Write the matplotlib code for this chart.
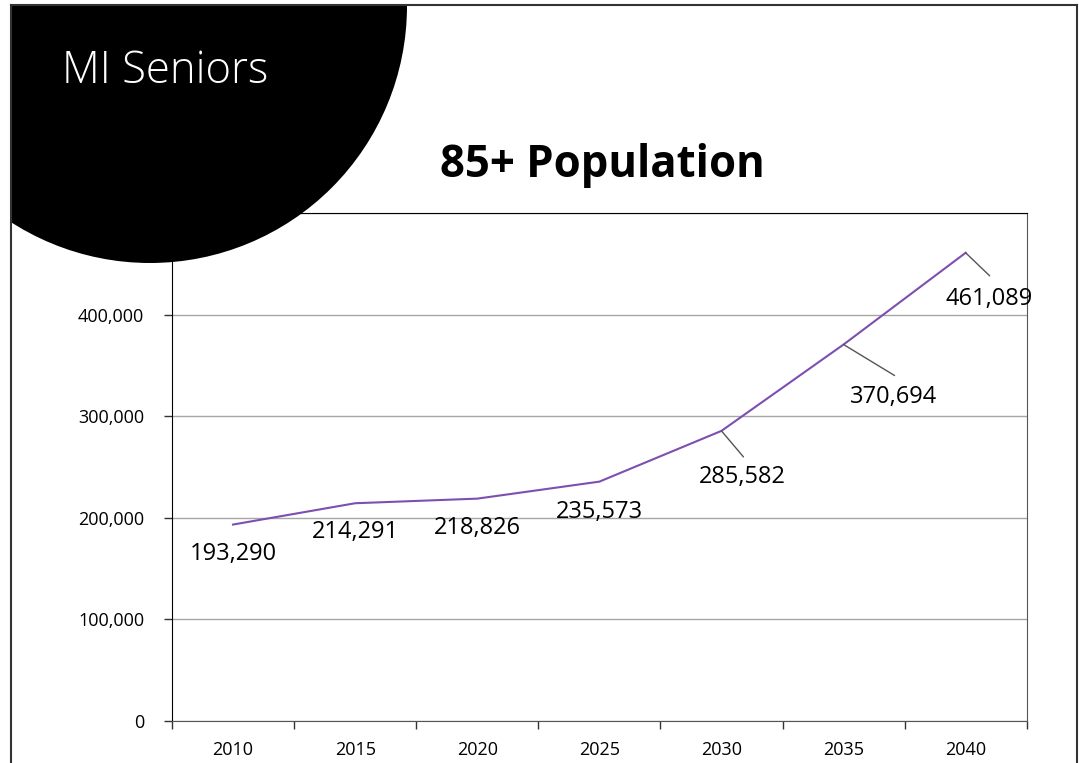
import matplotlib
matplotlib.use("Agg")
import matplotlib.pyplot as plt
from matplotlib.patches import Ellipse, Rectangle
from matplotlib.lines import Line2D
from matplotlib.ticker import FuncFormatter, MultipleLocator

plt.rcParams['font.family'] = ['Open Sans', 'DejaVu Sans']

years = ['2010', '2015', '2020', '2025', '2030', '2035', '2040']
population = [193290, 214291, 218826, 235573, 285582, 370694, 461089]

# label offsets in pixels (dx, dy downwards), leader end offsets (None = no leader)
label_offsets = [(0, 29), (0, 29), (0, 29), (0, 30), (21, 46), (50, 52), (23, 46)]
leader_ends = [None, None, None, None, (22, 26), (51, 31), (24, 23)]

W, H = 1079, 763
fig = plt.figure(figsize=(W / 100, H / 100), dpi=100)
fig.patch.set_facecolor('white')

ax = fig.add_axes([172 / W, 1 - 720.7 / H, 854.7 / W, (720.7 - 213.3) / H])
x = list(range(len(years)))
ax.plot(x, population, color='#7d4fb0', lw=1.5, zorder=3)

ax.set_xlim(-0.5, len(years) - 0.5)
ax.set_ylim(0, 500000)
ax.yaxis.set_major_locator(MultipleLocator(100000))
ax.yaxis.set_major_formatter(FuncFormatter(lambda v, p: f"{int(v):,}"))
ax.grid(axis='y', color='#a6a6a6', lw=1)
ax.set_axisbelow(True)

# category axis: ticks between categories, labels in the middle
ax.set_xticks([i - 0.5 for i in range(len(years) + 1)])
ax.set_xticklabels([])
ax.set_xticks(x, minor=True)
ax.set_xticklabels(years, minor=True)
ax.tick_params(axis='x', which='major', length=6, width=1, color='#333333', direction='out')
ax.tick_params(axis='x', which='minor', length=0, pad=14.5, labelsize=13)
ax.tick_params(axis='y', length=6, width=1, color='#333333', pad=14, labelsize=13)

for s in ['left', 'top']:
    ax.spines[s].set_color('#000000')
for s in ['right', 'bottom']:
    ax.spines[s].set_color('#555555')

for i, v in enumerate(population):
    dx, dy = label_offsets[i]
    ax.annotate(f"{v:,}", xy=(i, v), xytext=(dx, -dy), textcoords='offset pixels',
                ha='center', va='center', fontsize=17, color='black', zorder=4)
    if leader_ends[i] is not None:
        lx, ly = leader_ends[i]
        ax.annotate('', xy=(i, v), xytext=(lx, -ly), textcoords='offset pixels',
                    arrowprops=dict(arrowstyle='-', color='#555555', lw=1,
                                    shrinkA=0, shrinkB=0), zorder=4)

fig.text(602 / W, 1 - 166 / H, '85+ Population', ha='center', va='center',
         fontsize=31.5, fontweight='bold', color='black')

# slide decoration: black circle clipped by the frame
clip = Rectangle((11 / W, 0), (1077 - 11) / W, 1 - 5 / H, transform=fig.transFigure,
                 facecolor='none', edgecolor='none')
circle = Ellipse((150 / W, 1 - 6 / H), 2 * 257 / W, 2 * 257 / H, transform=fig.transFigure,
                 facecolor='black', edgecolor='none', zorder=5)
fig.patches.append(circle)
circle.set_clip_path(clip)
fig.text(62 / W, 1 - 72 / H, 'MI Seniors', ha='left', va='center', fontsize=31.5,
         fontweight='light', color='white', zorder=6)

frame_kw = dict(transform=fig.transFigure, color='#333333', lw=1.5, zorder=7)
fig.lines.append(Line2D([11 / W, 11 / W], [0, 1 - 5 / H], **frame_kw))
fig.lines.append(Line2D([11 / W, 1077 / W], [1 - 5 / H, 1 - 5 / H], **frame_kw))
fig.lines.append(Line2D([1077 / W, 1077 / W], [0, 1 - 5 / H], **frame_kw))

fig.savefig('out.png', dpi=100)
